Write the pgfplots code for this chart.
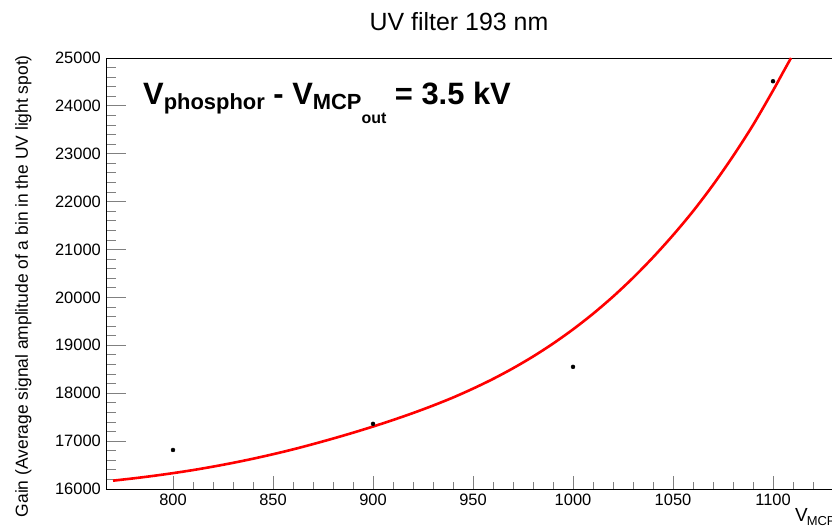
\documentclass[border=0pt]{standalone}
\usepackage{pgfplots}
\pgfplotsset{compat=1.18}
\usepackage{fontspec}
\setmainfont{Liberation Sans}
\begin{document}
\begin{tikzpicture}[x=1bp,y=1bp]
\begin{axis}[
  at={(0,0)}, anchor=south west,
  scale only axis,
  width=767bp, height=431bp,
  xmin=766.5, xmax=1150,
  ymin=16000, ymax=25000,
  xtick={800,850,...,1150},
  ytick={16000,17000,...,25000},
  minor x tick num=4,
  minor y tick num=4,
  tick pos=left,
  tick align=inside,
  axis line style={line width=0.9bp},
  xtick style={line width=0.9bp, /pgfplots/major tick length=13bp, /pgfplots/minor tick length=6.5bp},
  ytick style={line width=0.9bp, /pgfplots/major tick length=20bp, /pgfplots/minor tick length=10bp},
  scaled ticks=false,
  /pgf/number format/assume math mode=true,
  /pgf/number format/set thousands separator={},
  every tick label/.append style={font=\fontsize{16.5}{16.5}\selectfont, inner sep=0pt},
  yticklabel style={xshift=-5bp},
  xticklabel style={yshift=-5bp},
]
\addplot[red, line width=2.6bp, smooth] coordinates {
(770,16174) (780,16221) (790,16273) (800,16331) (810,16395) (820,16467)
(830,16546) (840,16632) (850,16726) (860,16827) (870,16937) (880,17053)
(890,17175) (900,17304) (910,17441) (920,17586) (930,17742) (940,17910)
(950,18096) (960,18298) (970,18521) (980,18766) (990,19036) (1000,19333)
(1010,19659) (1020,20017) (1030,20409) (1040,20837) (1050,21300) (1060,21800)
(1070,22350) (1080,22950) (1090,23600) (1100,24320) (1105,24700) (1109,25000)
};
\addplot[only marks, mark=*, mark size=2bp, black] coordinates {
(800,16815) (900,17360) (1000,18550) (1100,24515)
};
\end{axis}
\node[anchor=base, font=\fontsize{25}{25}\selectfont] at (353,458) {UV filter 193 nm};
\node[anchor=base east, rotate=90, inner sep=0pt, font=\fontsize{17.5}{17.5}\selectfont] at (-78,434) {Gain (Average signal amplitude of a bin in the UV light spot)};
\node[anchor=base west, inner sep=0pt, font=\bfseries\fontsize{31}{31}\selectfont] at (37,384)
 {V\raisebox{-5bp}{\fontsize{22}{22}\selectfont phosphor} - V\raisebox{-5bp}{\fontsize{22}{22}\selectfont MCP\raisebox{-14bp}{\fontsize{16}{16}\selectfont out}} = 3.5 kV};
\node[anchor=base west, inner sep=0pt, font=\fontsize{19}{19}\selectfont] at (689,-33)
 {V\kern-1bp\raisebox{-4bp}{\fontsize{13}{13}\selectfont MCP\raisebox{-3bp}{\fontsize{10}{10}\selectfont in}} [V]};
\pgfresetboundingbox
\path[use as bounding box] (-106,-38) rectangle (726,489);
\end{tikzpicture}
\end{document}
